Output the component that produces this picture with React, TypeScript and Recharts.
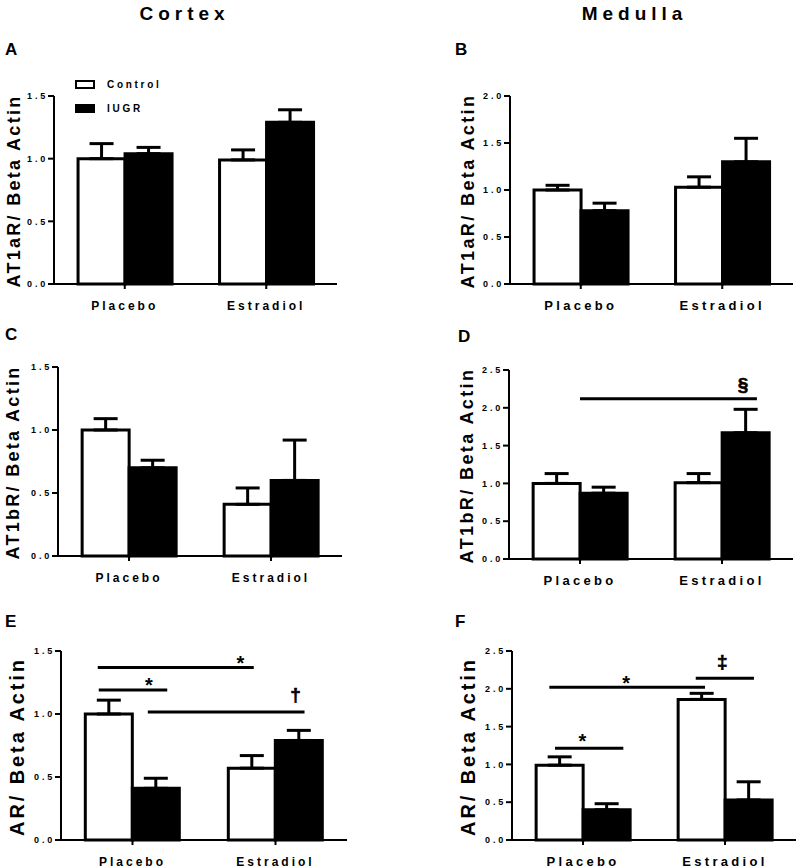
import React from 'react';
import {
  BarChart,
  Bar,
  ScatterChart,
  Scatter,
  XAxis,
  YAxis,
  ErrorBar,
  ReferenceLine,
  Legend,
} from 'recharts';

const FONT = '"Liberation Sans", Arial, Helvetica, sans-serif';

const categories = ['Placebo', 'Estradiol'];

// A - Cortex AT1aR
const aControl = [1.0, 0.99];
const aControlSem = [0.12, 0.08];
const aIugr = [1.04, 1.29];
const aIugrSem = [0.05, 0.1];
const aTicks = [0, 0.5, 1.0, 1.5];

// B - Medulla AT1aR
const bControl = [1.0, 1.03];
const bControlSem = [0.05, 0.11];
const bIugr = [0.78, 1.3];
const bIugrSem = [0.08, 0.25];
const bTicks = [0, 0.5, 1.0, 1.5, 2.0];

// C - Cortex AT1bR
const cControl = [1.0, 0.41];
const cControlSem = [0.09, 0.13];
const cIugr = [0.7, 0.6];
const cIugrSem = [0.06, 0.32];
const cTicks = [0, 0.5, 1.0, 1.5];

// D - Medulla AT1bR
const dControl = [1.0, 1.01];
const dControlSem = [0.13, 0.12];
const dIugr = [0.87, 1.67];
const dIugrSem = [0.08, 0.31];
const dTicks = [0, 0.5, 1.0, 1.5, 2.0, 2.5];

// E - Cortex AR
const eControl = [1.0, 0.57];
const eControlSem = [0.11, 0.1];
const eIugr = [0.41, 0.79];
const eIugrSem = [0.08, 0.08];
const eTicks = [0, 0.5, 1.0, 1.5];

// F - Medulla AR
const fControl = [0.99, 1.86];
const fControlSem = [0.11, 0.08];
const fIugr = [0.4, 0.53];
const fIugrSem = [0.08, 0.24];
const fTicks = [0, 0.5, 1.0, 1.5, 2.0, 2.5];

// significance bars, x in category units (0..2 across the plot)
const dSig = [{ x1: 0.5, x2: 1.746, y: 2.12 }];
const dMarks = [{ x: 1.648, y: 2.296, text: '§' }];

const eSig = [
  { x1: 0.257, x2: 1.348, y: 1.37 },
  { x1: 0.264, x2: 0.743, y: 1.19 },
  { x1: 0.607, x2: 1.703, y: 1.016 },
];
const eMarks = [
  { x: 1.255, y: 1.437, text: '*' },
  { x: 0.614, y: 1.262, text: '*' },
  { x: 1.64, y: 1.143, text: '†' },
];

const fSig = [
  { x1: 0.263, x2: 1.359, y: 2.02 },
  { x1: 1.294, x2: 1.704, y: 2.139 },
  { x1: 0.303, x2: 0.784, y: 1.213 },
];
const fMarks = [
  { x: 0.803, y: 2.139, text: '*' },
  { x: 1.481, y: 2.337, text: '‡' },
  { x: 0.495, y: 1.366, text: '*' },
];

const buildRows = (ctrl: number[], ctrlSem: number[], iugr: number[], iugrSem: number[]) =>
  categories.map((name, i) => ({
    name,
    control: ctrl[i],
    controlErr: [0, ctrlSem[i]],
    iugr: iugr[i],
    iugrErr: [0, iugrSem[i]],
  }));

const YTitle = ({ text, tx, ty, size, spacing }: any) => (
  <text
    x={tx}
    y={ty}
    transform={`rotate(-90 ${tx} ${ty})`}
    textAnchor="middle"
    dominantBaseline="central"
    fontFamily={FONT}
    fontWeight="bold"
    fontSize={size}
    letterSpacing={spacing}
    fill="#000"
  >
    {text}
  </text>
);

const LegendBox = ({ payload }: any) => (
  <div style={{ fontFamily: FONT }}>
    {(payload || []).map((entry: any, i: number) => (
      <div key={i} style={{ display: 'flex', alignItems: 'center', height: 24 }}>
        <div
          style={{
            width: 20,
            height: 9,
            boxSizing: 'border-box',
            border: '2px solid #000',
            background: i === 0 ? '#fff' : '#000',
            marginRight: 12,
          }}
        />
        <span style={{ fontSize: 10, fontWeight: 'bold', letterSpacing: 2.7, color: '#000' }}>
          {entry.value}
        </span>
      </div>
    ))}
  </div>
);

const SymbolShape = (p: any) => {
  const text = p.payload?.text ?? '*';
  const fs = text === '*' ? 20 : 19;
  const shift = text === '*' ? 0.57 * fs : 0.27 * fs;
  return (
    <text
      x={p.cx}
      y={p.cy + shift}
      textAnchor="middle"
      fontFamily={FONT}
      fontWeight="bold"
      fontSize={fs}
      fill="#000"
      stroke={text === '*' ? 'none' : '#000'}
      strokeWidth={0.6}
    >
      {text}
    </text>
  );
};

interface PanelProps {
  data: any[];
  ticks: number[];
  yLabel: string;
  chartLeft: number;
  plotLeft: number;
  plotRight: number;
  plotTop: number;
  plotBottom: number;
  yLabelX: number;
  labelSize: number;
  labelSpacing: number;
  catSize: number;
  catSpacing: number;
  sig?: { x1: number; x2: number; y: number }[];
  marks?: { x: number; y: number; text: string }[];
  legend?: boolean;
}

const Panel = (p: PanelProps) => {
  const chartTop = p.plotTop - 40;
  const height = p.plotBottom - p.plotTop + 40 + 30;
  const yMax = p.ticks[p.ticks.length - 1];
  const rightMargin = p.chartLeft + 400 - p.plotRight;
  return (
    <div style={{ position: 'absolute', left: p.chartLeft, top: chartTop, width: 400, height }}>
      <BarChart
        width={400}
        height={height}
        data={p.data}
        margin={{ top: 40, right: rightMargin, bottom: 0, left: 0 }}
        barCategoryGap="17%"
        barGap={0}
      >
        <XAxis
          dataKey="name"
          height={30}
          axisLine={{ stroke: '#000', strokeWidth: 2 }}
          tickLine={{ stroke: '#000', strokeWidth: 2 }}
          tickSize={5}
          tickMargin={12}
          tick={{
            fill: '#000',
            fontSize: p.catSize,
            fontWeight: 'bold',
            letterSpacing: p.catSpacing,
            fontFamily: FONT,
          }}
        />
        <YAxis
          width={p.plotLeft - p.chartLeft}
          domain={[0, yMax]}
          ticks={p.ticks}
          interval={0}
          tickFormatter={(v: number) => v.toFixed(1)}
          axisLine={{ stroke: '#000', strokeWidth: 2 }}
          tickLine={{ stroke: '#000', strokeWidth: 2 }}
          tickSize={6}
          tickMargin={0}
          tick={{ fill: '#000', fontSize: 9, fontWeight: 'bold', letterSpacing: 2.8, fontFamily: FONT }}
          label={
            <YTitle
              text={p.yLabel}
              tx={p.yLabelX}
              ty={(p.plotTop + p.plotBottom) / 2 - chartTop + 1}
              size={p.labelSize}
              spacing={p.labelSpacing}
            />
          }
        />
        {p.legend && (
          <Legend
            layout="vertical"
            align="center"
            verticalAlign="middle"
            wrapperStyle={{ left: 75, top: 16.5 }}
            content={<LegendBox />}
          />
        )}
        <Bar dataKey="control" name="Control" fill="#fff" stroke="#000" strokeWidth={3} isAnimationActive={false}>
          <ErrorBar dataKey="controlErr" width={12} stroke="#000" strokeWidth={3} />
        </Bar>
        <Bar dataKey="iugr" name="IUGR" fill="#000" stroke="#000" strokeWidth={3} isAnimationActive={false}>
          <ErrorBar dataKey="iugrErr" width={12} stroke="#000" strokeWidth={3} />
        </Bar>
      </BarChart>

      {p.sig && (
        <div style={{ position: 'absolute', left: 0, top: 0, pointerEvents: 'none' }}>
          <ScatterChart
            width={400}
            height={height}
            margin={{ top: 40, right: rightMargin, bottom: 30, left: p.plotLeft - p.chartLeft }}
          >
            <XAxis type="number" dataKey="x" domain={[0, 2]} hide allowDataOverflow />
            <YAxis type="number" dataKey="y" domain={[0, yMax]} hide allowDataOverflow />
            {p.sig.map((s, i) => (
              <ReferenceLine
                key={i}
                segment={[
                  { x: s.x1, y: s.y },
                  { x: s.x2, y: s.y },
                ]}
                stroke="#000"
                strokeWidth={3}
                ifOverflow="visible"
              />
            ))}
            <Scatter data={p.marks || []} shape={<SymbolShape />} isAnimationActive={false} />
          </ScatterChart>
        </div>
      )}
    </div>
  );
};

const left = { labelSize: 18, labelSpacing: 2.3, catSize: 12, catSpacing: 3 };
const right = { labelSize: 18, labelSpacing: 2.4, catSize: 13, catSpacing: 3.3 };

export default function App() {
  return (
    <div
      style={{
        position: 'absolute',
        left: 0,
        top: 0,
        width: 800,
        height: 868,
        background: '#fff',
        overflow: 'hidden',
      }}
    >
      <svg width={800} height={868} style={{ position: 'absolute', left: 0, top: 0 }}>
        <g fontFamily={FONT} fontWeight="bold" fill="#000">
          <text x={184.5} y={20} fontSize={19} letterSpacing={5} textAnchor="middle">
            Cortex
          </text>
          <text x={634.5} y={20} fontSize={19} letterSpacing={5} textAnchor="middle">
            Medulla
          </text>
          <text x={5} y={55} fontSize={17}>A</text>
          <text x={455} y={55} fontSize={17}>B</text>
          <text x={5} y={340} fontSize={17}>C</text>
          <text x={458} y={342} fontSize={17}>D</text>
          <text x={5} y={627} fontSize={17}>E</text>
          <text x={455} y={627} fontSize={17}>F</text>
        </g>
      </svg>

      <Panel
        data={buildRows(aControl, aControlSem, aIugr, aIugrSem)}
        ticks={aTicks}
        yLabel="AT1aR/ Beta Actin"
        chartLeft={0}
        plotLeft={54}
        plotRight={337}
        plotTop={96}
        plotBottom={284}
        yLabelX={14}
        legend
        {...left}
      />
      <Panel
        data={buildRows(bControl, bControlSem, bIugr, bIugrSem)}
        ticks={bTicks}
        yLabel="AT1aR/ Beta Actin"
        chartLeft={400}
        plotLeft={510}
        plotRight={793}
        plotTop={96}
        plotBottom={284}
        yLabelX={68}
        {...right}
      />
      <Panel
        data={buildRows(cControl, cControlSem, cIugr, cIugrSem)}
        ticks={cTicks}
        yLabel="AT1bR/ Beta Actin"
        chartLeft={0}
        plotLeft={58}
        plotRight={342}
        plotTop={367}
        plotBottom={556}
        yLabelX={13}
        {...left}
      />
      <Panel
        data={buildRows(dControl, dControlSem, dIugr, dIugrSem)}
        ticks={dTicks}
        yLabel="AT1bR/ Beta Actin"
        chartLeft={400}
        plotLeft={509}
        plotRight={793}
        plotTop={370}
        plotBottom={559}
        yLabelX={67}
        sig={dSig}
        marks={dMarks}
        {...right}
      />
      <Panel
        data={buildRows(eControl, eControlSem, eIugr, eIugrSem)}
        ticks={eTicks}
        yLabel="AR/ Beta Actin"
        chartLeft={0}
        plotLeft={61}
        plotRight={347}
        plotTop={651}
        plotBottom={840}
        yLabelX={17}
        sig={eSig}
        marks={eMarks}
        {...left}
        labelSize={20}
        labelSpacing={2.9}
      />
      <Panel
        data={buildRows(fControl, fControlSem, fIugr, fIugrSem)}
        ticks={fTicks}
        yLabel="AR/ Beta Actin"
        chartLeft={400}
        plotLeft={512}
        plotRight={796}
        plotTop={651}
        plotBottom={840}
        yLabelX={68}
        sig={fSig}
        marks={fMarks}
        {...right}
        labelSize={20}
        labelSpacing={2.9}
      />
    </div>
  );
}
